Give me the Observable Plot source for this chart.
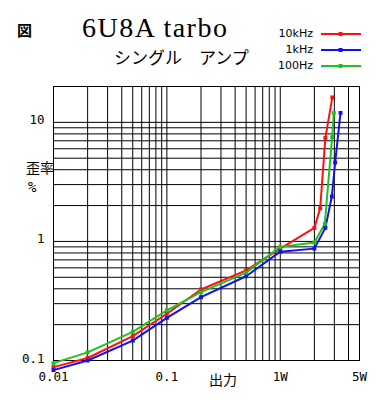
<!DOCTYPE html>
<html><head><meta charset="utf-8">
<script src="https://cdn.jsdelivr.net/npm/d3@7"></script>
<script src="https://cdn.jsdelivr.net/npm/@observablehq/plot@0.6"></script>
<style>
body{margin:0;background:#fff;}
#wrap{position:relative;width:380px;height:400px;overflow:hidden;}
.t{position:absolute;white-space:nowrap;color:#000;line-height:1;}
</style></head>
<body><div id="wrap"></div>
<script>
// ---- data ----
const seriesNames = ["10kHz", "1kHz", "100Hz"];
const seriesColors = ["#ff1010", "#1010f0", "#20c020"];
const x10k = [0.01, 0.02, 0.05, 0.1, 0.2, 0.5, 1, 2, 2.25, 2.5, 2.88];
const y10k = [0.088, 0.105, 0.16, 0.247, 0.395, 0.572, 0.87, 1.3, 1.9, 7.4, 16.2];
const x1k = [0.01, 0.02, 0.05, 0.1, 0.2, 0.5, 1, 2, 2.5, 2.85, 3.05, 3.4];
const y1k = [0.083, 0.1, 0.147, 0.228, 0.34, 0.51, 0.82, 0.87, 1.3, 2.38, 4.6, 12];
const x100 = [0.01, 0.02, 0.05, 0.1, 0.2, 0.5, 1, 2, 2.47, 2.87, 2.97];
const y100 = [0.095, 0.117, 0.174, 0.264, 0.375, 0.547, 0.9, 0.98, 1.4, 7.5, 12];
const xTicks = [0.01, 0.1, 1, 5];
const xTickLabels = ["0.01", "0.1", "1W", "5W"];
const yTicks = [0.1, 1, 10];
const yTickLabels = ["0.1", "1", "10"];

const xGrid = [];
for (const d of [0.01, 0.1, 1]) for (let m = 1; m <= 9; m++) if (d * m <= 5) xGrid.push(+(d * m).toPrecision(3));
const yGrid = [];
for (const d of [0.1, 1, 10]) for (let m = 1; m <= 9; m++) if (d * m <= 20) yGrid.push(+(d * m).toPrecision(3));

const table = [];
[[x10k, y10k], [x1k, y1k], [x100, y100]].forEach(([xs, ys], i) => {
  xs.forEach((x, j) => table.push({series: seriesNames[i], x, y: ys[j]}));
});
const xTickData = xTicks.map((v, i) => ({v, label: xTickLabels[i]}));
const yTickData = yTicks.map((v, i) => ({v, label: yTickLabels[i]}));

const mono = "'DejaVu Sans Mono', monospace";
const chart = Plot.plot({
  width: 380, height: 400,
  marginLeft: 53, marginRight: 21, marginTop: 86, marginBottom: 40,
  style: {background: "#fff", color: "#000", overflow: "visible"},
  x: {type: "log", domain: [0.01, 5], axis: null},
  y: {type: "log", domain: [0.1, 20], axis: null},
  color: {domain: seriesNames, range: seriesColors},
  marks: [
    Plot.gridX(xGrid, {stroke: "#000", strokeOpacity: 1, strokeWidth: 1}),
    Plot.gridY(yGrid, {stroke: "#000", strokeOpacity: 1, strokeWidth: 1}),
    Plot.frame({stroke: "#000", strokeWidth: 1}),
    Plot.text(xTickData, {x: "v", text: "label", frameAnchor: "bottom", dy: 20, fontSize: 12.5, fontFamily: mono, fill: "#000", letterSpacing: 0.5}),
    Plot.text(yTickData, {y: "v", text: "label", frameAnchor: "left", dx: -9, dy: -2, textAnchor: "end", fontSize: 12.5, fontFamily: mono, fill: "#000"}),
    Plot.line(table, {x: "x", y: "y", z: "series", stroke: "series", strokeWidth: 2}),
    Plot.dot(table, {x: "x", y: "y", fill: "series", symbol: "square", r: 2.2})
  ]
});
const wrap = document.getElementById("wrap");
wrap.appendChild(chart);

function addText(txt, left, top, css) {
  const d = document.createElement("div");
  d.className = "t"; d.textContent = txt;
  d.style.left = left + "px"; d.style.top = top + "px";
  Object.assign(d.style, css || {});
  wrap.appendChild(d);
  return d;
}
addText("図", 17, 22, {fontSize: "15px", fontWeight: "bold", fontFamily: "'Noto Sans CJK JP'"});
addText("6U8A tarbo", 82, 14, {fontSize: "28px", fontFamily: "'Liberation Serif', serif", letterSpacing: "1.5px"});
addText("シングル　アンプ", 114, 48, {fontSize: "17px", fontFamily: "'Noto Sans CJK JP'"});
addText("歪率", 26, 160, {fontSize: "14px", fontFamily: "'Noto Sans CJK JP'"});
addText("%", 28, 180, {fontSize: "14px", fontFamily: mono});
addText("出力", 209, 372, {fontSize: "14px", fontFamily: "'Noto Sans CJK JP'"});

// legend
const ly = [34, 50, 66];
seriesNames.forEach((name, i) => {
  const d = addText(name, 0, ly[i] - 6, {fontSize: "11px", fontFamily: "'DejaVu Sans', sans-serif", textAlign: "right", width: "60px"});
  d.style.left = (313 - 60) + "px";
  const ns = "http://www.w3.org/2000/svg";
  const s = document.createElementNS(ns, "svg");
  s.setAttribute("width", 44); s.setAttribute("height", 8);
  s.style.position = "absolute"; s.style.left = "320px"; s.style.top = (ly[i] - 4) + "px";
  const l = document.createElementNS(ns, "line");
  l.setAttribute("x1", 1); l.setAttribute("x2", 41); l.setAttribute("y1", 4); l.setAttribute("y2", 4);
  l.setAttribute("stroke", seriesColors[i]); l.setAttribute("stroke-width", 2);
  const r = document.createElementNS(ns, "rect");
  r.setAttribute("x", 18.5); r.setAttribute("y", 2); r.setAttribute("width", 4); r.setAttribute("height", 4);
  r.setAttribute("fill", seriesColors[i]);
  s.appendChild(l); s.appendChild(r);
  wrap.appendChild(s);
});
</script></body></html>
